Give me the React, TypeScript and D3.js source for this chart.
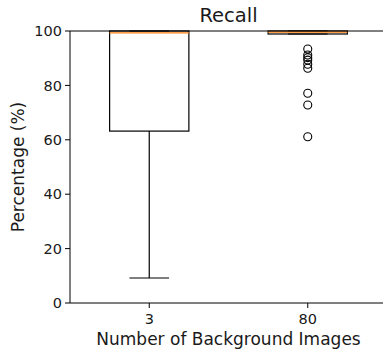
import React from "react";
import * as d3 from "d3";

// box statistics
const categories = ["3", "80"];
const q1 = [63.2, 98.9];
const median = [99.3, 99.6];
const q3 = [100, 100];
const whiskerLow = [9.2, 98.9];
const whiskerHigh = [100, 100];
const outliers: number[][] = [[], [93.4, 91.2, 90.2, 89.3, 87.8, 86.3, 77.1, 72.8, 61.1]];
const yTicks = [0, 20, 40, 60, 80, 100];

const W = 383;
const H = 354;
const margin = { top: 31, right: -4, bottom: 51, left: 70 };
const FONT = "DejaVu Sans, sans-serif";

export default function App() {
    const innerW = W - margin.left - margin.right;
    const innerH = H - margin.top - margin.bottom;

    const x = d3.scaleLinear().domain([0.5, 2.5]).range([0, innerW]);
    const y = d3.scaleLinear().domain([0, 100]).range([innerH, 0]);
    const boxHalf = (x(1.25) - x(0.75)) / 2;
    const capHalf = boxHalf / 2;

    return (
        <div style={{ position: "absolute", left: 0, top: 0, background: "#fff" }}>
            <svg width={W} height={H} style={{ display: "block" }} fontFamily={FONT}>
                <text x={margin.left + innerW / 2} y={22} textAnchor="middle" fontSize={19.5} fill="#1a1a1a">Recall</text>
                <g transform={`translate(${margin.left},${margin.top})`}>
                    {categories.map((c, i) => {
                        const cx = x(i + 1);
                        return (
                            <g key={c}>
                                <line x1={cx} x2={cx} y1={y(q1[i])} y2={y(whiskerLow[i])} stroke="#000" strokeWidth={1.2} />
                                <line x1={cx} x2={cx} y1={y(q3[i])} y2={y(whiskerHigh[i])} stroke="#000" strokeWidth={1.2} />
                                <line x1={cx - capHalf} x2={cx + capHalf} y1={y(whiskerLow[i])} y2={y(whiskerLow[i])} stroke="#000" strokeWidth={1.2} />
                                <line x1={cx - capHalf} x2={cx + capHalf} y1={y(whiskerHigh[i])} y2={y(whiskerHigh[i])} stroke="#000" strokeWidth={1.2} />
                                <rect x={cx - boxHalf} y={y(q3[i])} width={boxHalf * 2} height={y(q1[i]) - y(q3[i])} fill="none" stroke="#000" strokeWidth={1.2} />
                                <line x1={cx - boxHalf} x2={cx + boxHalf} y1={y(median[i])} y2={y(median[i])} stroke="#ff7f0e" strokeWidth={1.2} />
                                {outliers[i].map((v, j) => (
                                    <circle key={j} cx={cx} cy={y(v)} r={4} fill="none" stroke="#000" strokeWidth={1.1} />
                                ))}
                            </g>
                        );
                    })}
                    {/* spines */}
                    <line x1={0} x2={0} y1={0} y2={innerH} stroke="#000" strokeWidth={1} />
                    <line x1={0} x2={innerW} y1={innerH} y2={innerH} stroke="#000" strokeWidth={1} />
                    <line x1={0} x2={innerW} y1={0} y2={0} stroke="#000" strokeWidth={1} />
                    <line x1={innerW} x2={innerW} y1={0} y2={innerH} stroke="#000" strokeWidth={1} />
                    {yTicks.map(t => (
                        <g key={t} transform={`translate(0,${y(t)})`}>
                            <line x1={-5} x2={0} stroke="#000" />
                            <text x={-8} dy="0.36em" textAnchor="end" fontSize={14.5} fill="#1a1a1a">{t}</text>
                        </g>
                    ))}
                    {categories.map((c, i) => (
                        <g key={c} transform={`translate(${x(i + 1)},${innerH})`}>
                            <line y1={0} y2={5} stroke="#000" />
                            <text y={21} textAnchor="middle" fontSize={14.5} fill="#1a1a1a">{c}</text>
                        </g>
                    ))}
                </g>
                <text x={margin.left + innerW / 2} y={345} textAnchor="middle" fontSize={17} fill="#1a1a1a">Number of Background Images</text>
                <text transform={`translate(24,${margin.top + innerH / 2}) rotate(-90)`} textAnchor="middle" fontSize={17} fill="#1a1a1a">Percentage (%)</text>
            </svg>
        </div>
    );
}
